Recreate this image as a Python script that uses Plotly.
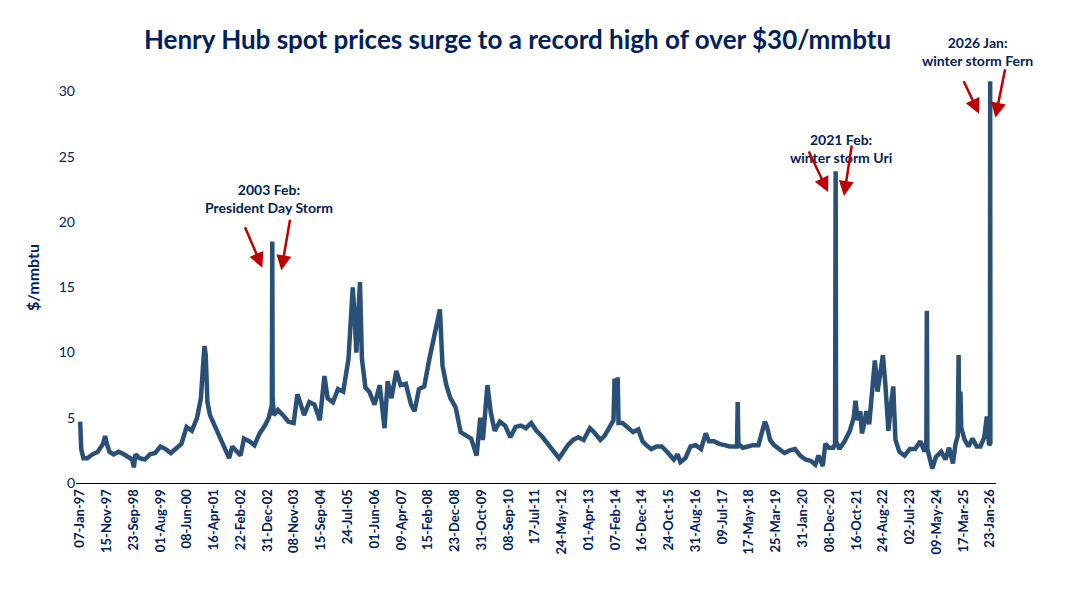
import pandas as pd
import plotly.graph_objects as go

# Henry Hub spot price, $/mmbtu
prices = {
    "1997-01-07": 4.7, "1997-01-20": 2.6, "1997-02-15": 1.9, "1997-04-01": 1.9, "1997-06-01": 2.2,
    "1997-08-01": 2.4, "1997-10-01": 3.0, "1997-10-25": 3.6, "1997-11-15": 3.0, "1997-12-15": 2.4,
    "1998-02-01": 2.2, "1998-04-01": 2.4, "1998-06-01": 2.2, "1998-08-01": 2.0, "1998-09-05": 1.8,
    "1998-09-25": 1.2, "1998-10-15": 2.2, "1998-12-01": 1.9, "1999-02-01": 1.8, "1999-04-01": 2.2,
    "1999-06-01": 2.3, "1999-08-01": 2.8, "1999-10-01": 2.6, "1999-12-01": 2.3, "2000-02-01": 2.7,
    "2000-04-01": 3.0, "2000-06-01": 4.3, "2000-08-01": 4.0, "2000-10-01": 5.0, "2000-11-15": 6.5,
    "2000-12-10": 9.0, "2000-12-27": 10.5, "2001-01-10": 9.8, "2001-01-30": 6.2, "2001-03-01": 5.2,
    "2001-05-01": 4.3, "2001-07-01": 3.2, "2001-09-01": 2.3, "2001-10-10": 1.9, "2001-11-15": 2.8,
    "2002-01-01": 2.4, "2002-02-20": 2.1, "2002-04-01": 3.4, "2002-06-01": 3.2, "2002-08-01": 2.9,
    "2002-10-01": 3.8, "2002-12-01": 4.4, "2003-01-15": 5.0, "2003-02-20": 6.0, "2003-02-25": 18.5,
    "2003-03-01": 6.5, "2003-03-15": 5.2, "2003-05-01": 5.6, "2003-07-01": 5.2, "2003-09-01": 4.7,
    "2003-11-01": 4.6, "2003-12-15": 6.8, "2004-01-15": 6.2, "2004-03-01": 5.2, "2004-05-01": 6.2,
    "2004-07-01": 6.0, "2004-09-01": 4.8, "2004-10-25": 8.2, "2004-12-01": 6.5, "2005-02-01": 6.2,
    "2005-04-01": 7.2, "2005-06-01": 7.0, "2005-08-01": 9.5, "2005-09-01": 12.5, "2005-09-20": 15.0,
    "2005-10-10": 13.0, "2005-11-01": 10.0, "2005-12-13": 15.4, "2006-01-05": 9.5, "2006-02-15": 7.3,
    "2006-04-01": 7.0, "2006-06-01": 6.0, "2006-08-01": 7.5, "2006-09-25": 4.2, "2006-11-01": 7.8,
    "2006-12-15": 6.5, "2007-02-10": 8.6, "2007-04-01": 7.5, "2007-06-01": 7.6, "2007-08-01": 6.0,
    "2007-09-10": 5.5, "2007-11-01": 7.2, "2008-01-01": 7.4, "2008-03-01": 9.5, "2008-05-01": 11.2,
    "2008-07-02": 13.3, "2008-08-01": 9.0, "2008-09-15": 7.5, "2008-11-01": 6.5, "2009-01-01": 5.8,
    "2009-03-01": 3.9, "2009-05-01": 3.6, "2009-07-01": 3.4, "2009-09-03": 2.1, "2009-10-15": 5.0,
    "2009-11-15": 3.3, "2009-12-20": 5.8, "2010-01-07": 7.5, "2010-02-15": 5.4, "2010-04-01": 4.0,
    "2010-06-01": 4.7, "2010-08-01": 4.4, "2010-10-01": 3.5, "2010-12-01": 4.3, "2011-02-01": 4.4,
    "2011-04-01": 4.2, "2011-06-01": 4.6, "2011-08-01": 4.0, "2011-10-01": 3.6, "2011-12-01": 3.1,
    "2012-02-01": 2.6, "2012-04-20": 1.9, "2012-06-01": 2.3, "2012-08-01": 2.9, "2012-10-01": 3.3,
    "2012-12-01": 3.5, "2013-02-01": 3.3, "2013-04-15": 4.2, "2013-06-01": 3.9, "2013-08-15": 3.3,
    "2013-10-01": 3.6, "2013-12-10": 4.3, "2014-01-15": 4.8, "2014-01-28": 8.0, "2014-02-05": 6.0,
    "2014-02-15": 5.5, "2014-03-05": 8.1, "2014-03-15": 4.6, "2014-05-01": 4.6, "2014-07-01": 4.3,
    "2014-09-01": 3.9, "2014-11-01": 4.1, "2014-12-20": 3.2, "2015-02-01": 2.9, "2015-04-01": 2.6,
    "2015-06-01": 2.8, "2015-08-01": 2.8, "2015-10-01": 2.4, "2015-12-20": 1.8, "2016-02-01": 2.2,
    "2016-03-05": 1.6, "2016-05-01": 1.9, "2016-07-01": 2.8, "2016-09-01": 2.9, "2016-11-01": 2.6,
    "2016-12-25": 3.8, "2017-02-01": 3.2, "2017-04-01": 3.2, "2017-06-01": 3.0, "2017-08-01": 2.9,
    "2017-10-01": 2.8, "2017-12-25": 2.8, "2018-01-02": 6.2, "2018-01-10": 3.0, "2018-03-01": 2.7,
    "2018-05-01": 2.8, "2018-07-01": 2.9, "2018-09-01": 2.9, "2018-11-15": 4.7, "2018-12-10": 4.3,
    "2019-01-15": 3.3, "2019-03-01": 2.9, "2019-05-01": 2.6, "2019-07-01": 2.3, "2019-09-01": 2.5,
    "2019-11-01": 2.6, "2020-01-01": 2.1, "2020-03-01": 1.8, "2020-05-01": 1.7, "2020-06-25": 1.4,
    "2020-08-01": 2.1, "2020-09-20": 1.3, "2020-10-20": 3.0, "2020-12-01": 2.7, "2021-01-20": 2.7,
    "2021-02-10": 3.0, "2021-02-17": 23.9, "2021-02-22": 3.2, "2021-04-01": 2.6, "2021-06-01": 3.2,
    "2021-08-01": 4.0, "2021-09-15": 5.0, "2021-10-06": 6.3, "2021-11-01": 4.8, "2021-12-01": 5.5,
    "2021-12-20": 3.8, "2022-01-15": 4.5, "2022-02-10": 5.5, "2022-03-15": 4.5, "2022-04-15": 7.0,
    "2022-05-20": 9.4, "2022-06-20": 7.0, "2022-07-20": 8.5, "2022-08-22": 9.8, "2022-09-20": 7.5,
    "2022-10-25": 4.0, "2022-11-20": 5.8, "2022-12-20": 7.4, "2023-01-15": 3.3, "2023-03-01": 2.4,
    "2023-05-01": 2.1, "2023-07-01": 2.6, "2023-09-01": 2.6, "2023-11-01": 3.2, "2023-12-20": 2.4,
    "2024-01-10": 3.2, "2024-01-16": 13.2, "2024-01-22": 2.6, "2024-03-01": 1.6, "2024-03-20": 1.1,
    "2024-05-01": 2.0, "2024-07-01": 2.4, "2024-08-20": 1.8, "2024-10-01": 2.7, "2024-11-15": 1.5,
    "2024-12-15": 3.0, "2025-01-10": 3.6, "2025-01-20": 9.8, "2025-01-27": 4.0, "2025-02-10": 7.0,
    "2025-02-20": 4.2, "2025-04-01": 3.3, "2025-05-15": 2.8, "2025-07-01": 3.4, "2025-08-20": 2.8,
    "2025-10-01": 2.8, "2025-11-15": 3.5, "2025-12-15": 5.1, "2026-01-10": 2.9, "2026-01-21": 3.0,
    "2026-01-23": 30.8, "2026-01-26": 3.0,
}
df = pd.Series(prices)
df.index = pd.to_datetime(df.index)

navy = "#002060"
red = "#C00000"

fig = go.Figure()
fig.add_trace(go.Scatter(x=df.index, y=df.values, mode="lines",
                         line=dict(color="#2A5078", width=4.5), showlegend=False))

ticks = pd.date_range("1997-01-07", "2026-01-23", freq="312D")

# text labels (y in paper coords)
labels = [
    ("2003-01-20", 0.693, "<b>2003 Feb:<br>President Day Storm</b>"),
    ("2021-04-15", 0.815, "<b>2021 Feb:<br>winter storm Uri</b>"),
    ("2025-09-01", 1.05, "<b>2026 Jan:<br>winter storm Fern</b>"),
]
for x, y, t in labels:
    fig.add_annotation(x=x, y=y, yref="paper", text=t, showarrow=False,
                       font=dict(size=14, color=navy, family="Lato"), yanchor="middle")

# red arrows: (head date, head value, ax, ay)
arrows = [
    ("2002-11-01", 16.5, -18, -42), ("2003-06-10", 16.3, 9, -52),
    ("2020-11-20", 22.3, -20, -42), ("2021-05-25", 22.0, 8, -52),
    ("2025-09-15", 28.3, -16, -34), ("2026-03-25", 28.0, 10, -50),
]
for x, y, ax, ay in arrows:
    fig.add_annotation(x=x, y=y, ax=ax, ay=ay, showarrow=True, text="",
                       arrowhead=2, arrowsize=1.2, arrowwidth=2.5, arrowcolor=red)

fig.update_layout(
    title=dict(text="<b>Henry Hub spot prices surge to a record high of over $30/mmbtu</b>",
               x=0.47, xanchor="center", y=0.946, yanchor="middle",
               font=dict(size=26, color=navy, family="Lato")),
    width=1084, height=590,
    paper_bgcolor="white", plot_bgcolor="white",
    margin=dict(l=68, r=96, t=64, b=115),
    font=dict(family="Lato", color=navy),
    xaxis=dict(tickvals=ticks, ticktext=["<b>%s</b>" % d.strftime("%d-%b-%y") for d in ticks],
               tickangle=-90, range=["1996-11-20", "2026-04-01"], automargin=False,
               showline=True, linecolor="black", linewidth=1, showgrid=False,
               ticks="", tickfont=dict(size=13, color=navy, family="Lato")),
    yaxis=dict(range=[0, 31.5], tickvals=[0, 5, 10, 15, 20, 25, 30], showgrid=False,
               zeroline=False, title=dict(text="<b>$/mmbtu</b>", font=dict(size=16, color=navy)),
               tickfont=dict(size=14, color=navy, family="Lato"),
               tickprefix="<b>", ticksuffix="</b>"),
)

fig.write_html("out.html")
